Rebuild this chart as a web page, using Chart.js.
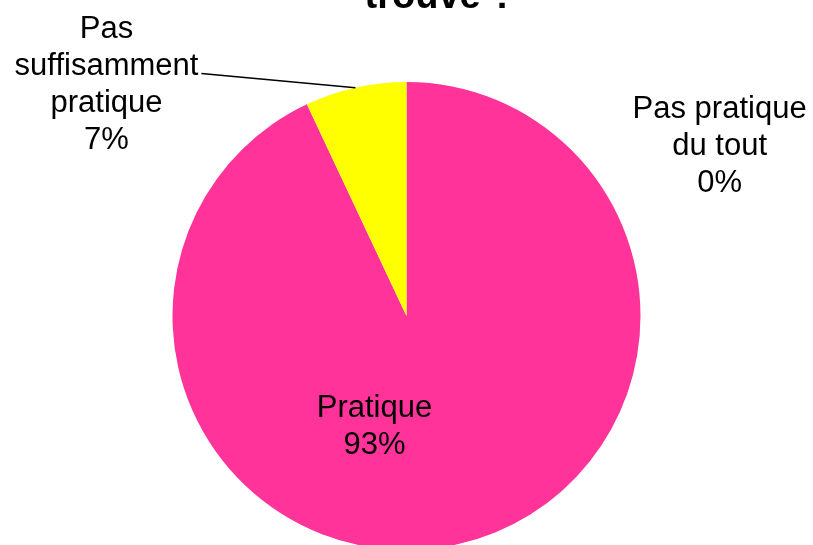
<!DOCTYPE html>
<html>
<head>
<meta charset="utf-8">
<script src="https://cdn.jsdelivr.net/npm/chart.js@4"></script>
<style>
    html, body { margin: 0; padding: 0; background: #fff; }
    #wrap { width: 813px; height: 545px; position: relative; }
</style>
</head>
<body>
<div id="wrap"><canvas id="pieChart"></canvas></div>
<script>
// ---- Data ----
const categories = ['Pas pratique du tout', 'Pratique', 'Pas suffisamment pratique'];
const categoryLines = [['Pas pratique', 'du tout'], ['Pratique'], ['Pas', 'suffisamment', 'pratique']];
const values = [0, 93, 7];
const colors = ['#7F7F7F', '#FF3399', '#FFFF00'];
const titleText = 'trouvé ?';

// label anchors, relative to pie centre, in units of the radius
const labelSpots = [
    { dx: 1.338, dy: -0.690 },
    { dx: -0.137, dy: 0.509 },
    { dx: -1.282, dy: -0.949, leader: true }
];

const FONT = '"Liberation Sans", Arial, sans-serif';

const labelPlugin = {
    id: 'pieLabels',
    afterDraw(chart) {
        const ctx = chart.ctx;
        const arcs = chart.getDatasetMeta(0).data;
        const cx = arcs[0].x, cy = arcs[0].y;
        const r = arcs[1].outerRadius;

        ctx.save();
        // cut-off title at the very top
        ctx.font = `bold 38px ${FONT}`;
        ctx.fillStyle = '#000';
        ctx.textAlign = 'center';
        ctx.textBaseline = 'alphabetic';
        ctx.fillText(titleText, chart.width / 2 + 33, 8);

        ctx.font = `31px ${FONT}`;
        const step = 37;
        values.forEach((v, i) => {
            const lines = [...categoryLines[i], `${v}%`];
            const spot = labelSpots[i];
            const lx = cx + spot.dx * r;
            const ly = cy + spot.dy * r;
            lines.forEach((t, j) => {
                ctx.fillText(t, lx, ly + (j - (lines.length - 1) / 2) * step);
            });
            if (spot.leader) {
                const arc = arcs[i];
                const mid = (arc.startAngle + arc.endAngle) / 2;
                const w = ctx.measureText(lines[1]).width;
                const by = ly + (1 - (lines.length - 1) / 2) * step;
                ctx.beginPath();
                ctx.moveTo(lx + w / 2 + 3, by - 2);
                ctx.lineTo(cx + Math.cos(mid) * r, cy + Math.sin(mid) * r);
                ctx.strokeStyle = '#000';
                ctx.lineWidth = 1.5;
                ctx.stroke();
            }
        });
        ctx.restore();
    }
};

new Chart(document.getElementById('pieChart'), {
    type: 'pie',
    data: {
        labels: categories,
        datasets: [{
            data: values,
            backgroundColor: colors,
            borderWidth: 0
        }]
    },
    options: {
        responsive: true,
        maintainAspectRatio: false,
        animation: false,
        radius: 234,
        layout: { padding: { top: 87, bottom: 0, left: 0, right: 0 } },
        plugins: {
            legend: { display: false },
            tooltip: { enabled: false },
            title: { display: false }
        }
    },
    plugins: [labelPlugin]
});
</script>
</body>
</html>
